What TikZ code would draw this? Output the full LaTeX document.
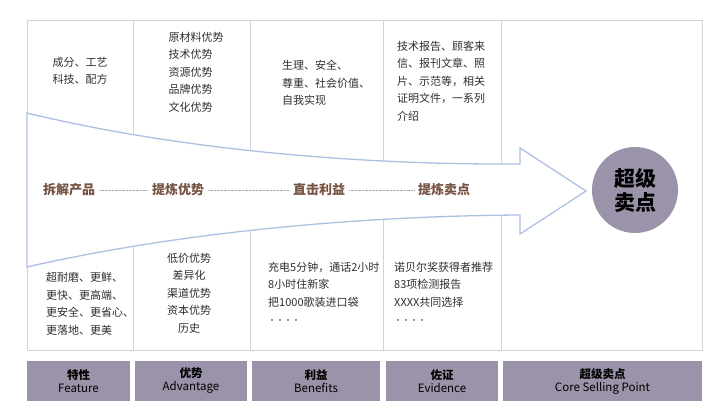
\documentclass[tikz,border=0pt]{standalone}
\usepackage{fontspec}
\setmainfont{Noto Sans CJK SC}
\definecolor{framegray}{HTML}{D3D3DA}
\definecolor{arrowblue}{HTML}{AEC0E2}
\definecolor{barpurple}{HTML}{9B93A9}
\definecolor{stagebrown}{HTML}{765443}
\definecolor{textgray}{HTML}{2E2E2E}
\begin{document}
\begin{tikzpicture}[x=1pt, y=-1pt,
    cell/.style={font=\fontsize{11}{17.5}\selectfont, text=textgray, inner sep=0pt},
    stage/.style={font=\fontsize{13}{15}\selectfont\bfseries, text=stagebrown, inner sep=2pt},
    bar/.style={fill=barpurple, minimum height=40pt, inner sep=0pt, align=center,
        font=\fontsize{11.5}{13}\selectfont, text=black}]
    \useasboundingbox (0,0) rectangle (720,410);

    % frame of the five columns
    \draw[framegray, line width=0.8pt] (27,20) rectangle (702,350);
    \foreach \x in {133,250,383,501}
        \draw[framegray, line width=0.8pt] (\x,20) -- (\x,350);

    % the big arrow
    \draw[arrowblue, line width=1.3pt, fill=white, line join=miter]
        (27,113) .. controls (180,150) and (360,165) .. (520,164)
        -- (520,148) -- (586,191) -- (520,234) -- (520,215)
        .. controls (360,216) and (180,232) .. (27,267) -- cycle;

    \node[circle, fill=barpurple, minimum size=86pt, inner sep=0pt, align=center,
        font=\fontsize{21}{24}\selectfont\bfseries] (core) at (635,190) {超级\\卖点};

    \node[stage] (s1) at (69,190) {拆解产品};
    \node[stage] (s2) at (178,190) {提炼优势};
    \node[stage] (s3) at (319,190) {直击利益};
    \node[stage] (s4) at (444,190) {提炼卖点};
    \foreach \a/\b in {s1/s2, s2/s3, s3/s4}
        \draw[gray!70, densely dotted, shorten <=2pt, shorten >=2pt] (\a) -- (\b);

    % upper cells
    \node[cell, align=center] (f1) at (80,71) {成分、工艺\\科技、配方};
    \node[cell, align=left] (a1) at (196,72) {原材料优势\\技术优势\\资源优势\\品牌优势\\文化优势};
    \node[cell, align=left, anchor=west] (b1) at (282,83) {生理、安全、\\尊重、社会价值、\\自我实现};
    \node[cell, align=left, anchor=west] (e1) at (397,81) {技术报告、顾客来\\信、报刊文章、照\\片、示范等，相关\\证明文件，一系列\\介绍};

    % lower cells
    \node[cell, align=left, anchor=west] (f2) at (46,304) {超耐磨、更鲜、\\更快、更高端、\\更安全、更省心、\\更落地、更美};
    \node[cell, align=center] (a2) at (189,293) {低价优势\\差异化\\渠道优势\\资本优势\\历史};
    \node[cell, align=left, anchor=west] (b2) at (268,293) {充电5分钟，通话2小时\\8小时住新家\\把1000歌装进口袋\\{\fontsize{8}{8}\selectfont ····}};
    \node[cell, align=left, anchor=west] (e2) at (394,293) {诺贝尔奖获得者推荐\\83项检测报告\\XXXX共同选择\\{\fontsize{8}{8}\selectfont ····}};

    % bars along the bottom
    \node[bar, minimum width=103pt] (bf) at (78.5,381) {\textbf{特性}\\Feature};
    \node[bar, minimum width=112pt] (ba) at (191,381) {\textbf{优势}\\Advantage};
    \node[bar, minimum width=128pt] (bb) at (316,381) {\textbf{利益}\\Benefits};
    \node[bar, minimum width=112pt] (be) at (442,381) {\textbf{佐证}\\Evidence};
    \node[bar, minimum width=199pt] (bc) at (602.5,381) {\textbf{超级卖点}\\Core Selling Point};
\end{tikzpicture}
\end{document}
